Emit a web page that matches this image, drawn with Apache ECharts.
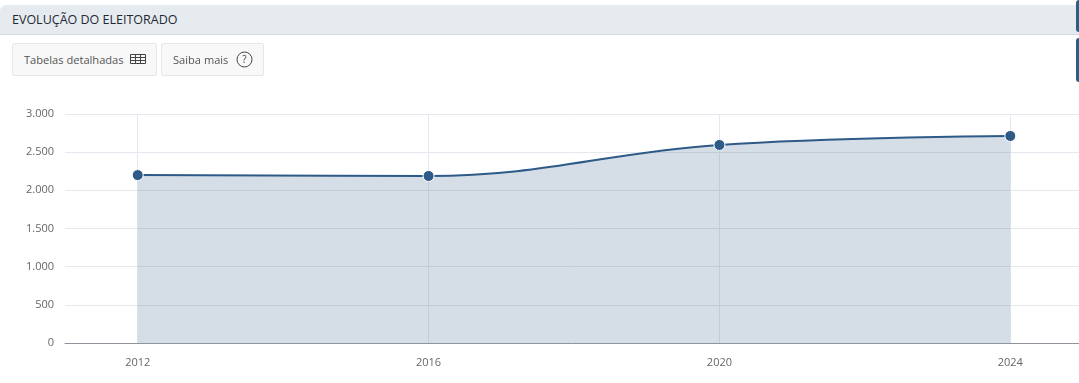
<!DOCTYPE html>
<html lang="pt">
<head>
    <meta charset="UTF-8">
    <title>Evolução do eleitorado</title>
    <script src="https://cdn.jsdelivr.net/npm/echarts@6/dist/echarts.min.js"></script>
    <style>
        html, body { margin: 0; padding: 0; background: #fff; overflow: hidden; }
        body { width: 1079px; height: 383px; position: relative; font-family: "Open Sans", "Noto Sans", sans-serif; }
        #chart { position: absolute; left: 0; top: 0; width: 1079px; height: 383px; }
        .header { position: absolute; left: 0; top: 5px; width: 1079px; height: 29px; box-sizing: content-box; background: #e6ebef; border-bottom: 1px solid #d3d9de; border-top-left-radius: 6px; color: #1f2933; font-size: 12.5px; line-height: 29px; text-indent: 12px; }
        .tab { position: absolute; left: 1076px; width: 3px; background: #2d5f85; border-radius: 3px 0 0 3px; }
        .btn { position: absolute; top: 43px; height: 31px; box-sizing: content-box; background: #f8f8f8; border: 1px solid #e7e7e7; border-radius: 2px; color: #555; font-size: 11.1px; line-height: 31px; white-space: nowrap; }
        .btn span { position: absolute; left: 11px; top: 0; }
        .btn svg { position: absolute; }
    </style>
</head>
<body>
    <div id="chart"></div>
    <div class="header">EVOLUÇÃO DO ELEITORADO</div>
    <div class="tab" style="top:0;height:32px"></div>
    <div class="tab" style="top:38px;height:44px"></div>
    <div class="btn" style="left:12px;width:143px">
        <span>Tabelas detalhadas</span>
        <svg style="left:117px;top:9px" width="16" height="12" viewBox="0 0 16 12" fill="none" stroke="#444" stroke-width="1">
            <path d="M.5 1.5h15v9H.5zM.5 4.5h15M.5 7.5h15M5.5 1.5v9M10.5 1.5v9"/>
        </svg>
    </div>
    <div class="btn" style="left:161px;width:101px">
        <span>Saiba mais</span>
        <svg style="left:74px;top:7px" width="17" height="17" viewBox="0 0 17 17" fill="none" stroke="#444" stroke-width="1">
            <circle cx="8.5" cy="8.5" r="7.5"/>
            <text x="8.5" y="12" text-anchor="middle" font-size="10" fill="#444" stroke="none">?</text>
        </svg>
    </div>

    <script>
// Dados do gráfico
const anos = [2012, 2016, 2020, 2024];
const eleitores = [2200, 2188, 2594, 2712];

const myChart = echarts.init(document.getElementById('chart'));

// Mesma fonte dos botões
const fonte = '"Open Sans", "Noto Sans", sans-serif';

myChart.setOption({
    animation: false,
    grid: { left: 65, width: 1018, top: 114, bottom: 40, outerBoundsMode: 'none' },
    xAxis: {
        type: 'value',
        min: 2011,
        max: 2025,
        axisLine: { show: true, onZero: false, lineStyle: { color: '#8f939b', width: 1 } },
        axisTick: { show: false, customValues: anos },
        axisLabel: {
            customValues: anos,
            formatter: v => String(v),
            color: '#666',
            fontSize: 11,
            fontFamily: fonte,
            margin: 14
        },
        splitLine: { show: true, lineStyle: { color: '#e6e8ef', width: 1 } }
    },
    yAxis: {
        type: 'value',
        min: 0,
        max: 3000,
        interval: 500,
        axisLine: { show: false },
        axisTick: { show: false },
        axisLabel: {
            formatter: v => v.toString().replace(/\B(?=(\d{3})+$)/g, '.'),
            color: '#666',
            fontSize: 11,
            fontFamily: fonte,
            margin: 11
        },
        splitLine: { lineStyle: { color: '#e6e8ef', width: 1 } }
    },
    series: [{
        type: 'line',
        data: anos.map((a, i) => [a, eleitores[i]]),
        smooth: 0.4,
        symbol: 'circle',
        symbolSize: 11,
        lineStyle: { color: '#2d5a87', width: 2 },
        itemStyle: { color: '#2d5a87', borderColor: '#fff', borderWidth: 1 },
        areaStyle: { color: '#2d5a87', opacity: 0.2 },
        z: 3
    }]
});
    </script>
</body>
</html>
